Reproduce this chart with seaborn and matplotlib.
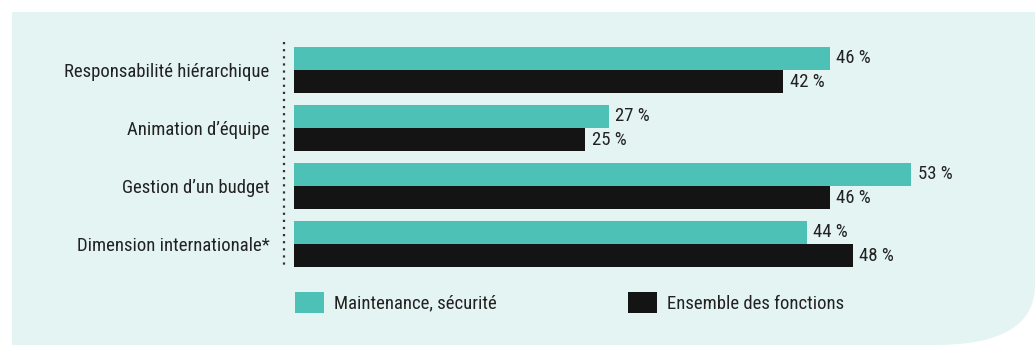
import matplotlib
matplotlib.use("Agg")
import matplotlib.pyplot as plt
import seaborn as sns
import pandas as pd
from matplotlib.path import Path
from matplotlib.patches import PathPatch
from matplotlib import font_manager

categories = ["Responsabilité hiérarchique", "Animation d’équipe",
              "Gestion d’un budget", "Dimension internationale*"]
series_names = ["Maintenance, sécurité", "Ensemble des fonctions"]
maintenance = [46, 27, 53, 44]
ensemble = [42, 25, 46, 48]

df = pd.DataFrame({
    "cat": categories * 2,
    "val": maintenance + ensemble,
    "serie": [series_names[0]] * 4 + [series_names[1]] * 4,
})

sns.set_theme(style="white")
installed = {f.name for f in font_manager.fontManager.ttflist}
candidates = ["Liberation Sans Narrow", "Roboto Condensed", "Open Sans Condensed",
              "DejaVu Sans Condensed", "Roboto"]
main_font = next((c for c in candidates if c in installed), "DejaVu Sans")
plt.rcParams["font.family"] = [main_font, "DejaVu Sans"]

TEAL = "#4dc1b6"
BLACK = "#141414"
BG = "#e4f4f2"
TXT = "#222222"

W, H = 1035, 345
fig = plt.figure(figsize=(W / 100, H / 100), dpi=100, facecolor="white")

def fc(x, y):
    return (x / W, 1 - y / H)

verts = [fc(12, 12), fc(1035, 12), fc(1035, 285), fc(1035, 345), fc(935, 345),
         fc(12, 345), fc(12, 12)]
codes = [Path.MOVETO, Path.LINETO, Path.LINETO, Path.CURVE3, Path.CURVE3,
         Path.LINETO, Path.CLOSEPOLY]
panel = PathPatch(Path(verts, codes), transform=fig.transFigure,
                  facecolor=BG, edgecolor="none", zorder=-5)
fig.patches.append(panel)

px_per = 11.65
left_px, right_px = 284, 1000
top_px, bot_px = 41, 273
ax = fig.add_axes([left_px / W, 1 - bot_px / H, (right_px - left_px) / W,
                   (bot_px - top_px) / H])
ax.set_facecolor("none")
ax.set_zorder(2)

sns.barplot(data=df, y="cat", x="val", hue="serie", orient="h",
            palette=[TEAL, BLACK], width=0.81, saturation=1, linewidth=0,
            ax=ax, order=categories, hue_order=series_names)

x0 = -(294 - left_px) / px_per
ax.set_xlim(x0, x0 + (right_px - left_px) / px_per)
ax.set_ylim(3.5, -0.5)

fs = 13.5
for c in ax.containers:
    ax.bar_label(c, fmt="{:.0f} %", padding=4.5, fontsize=fs, color=TXT)

for s in ["top", "right", "bottom", "left"]:
    ax.spines[s].set_visible(False)
ax.plot([x0, x0], [-0.48, 3.42], color="#333333", linewidth=1.6,
        linestyle=(0, (1, 2.2)), clip_on=False)

ax.set_xticks([])
ax.set_xlabel("")
ax.set_ylabel("")
ax.tick_params(axis="y", length=0, pad=10.5, labelsize=fs, labelcolor=TXT)

handles, labels = ax.get_legend_handles_labels()
ax.get_legend().remove()
for h in handles:
    h.set_edgecolor("none")
fig.legend(handles, labels, loc="upper left",
           bbox_to_anchor=(295 / W, 1 - 292 / H), bbox_transform=fig.transFigure,
           ncol=2, frameon=False, fontsize=fs, borderpad=0, borderaxespad=0,
           handlelength=1.55, handleheight=1.33, handletextpad=0.53,
           columnspacing=7.0, labelcolor=TXT)

fig.savefig("out.png", dpi=100, facecolor="white")
